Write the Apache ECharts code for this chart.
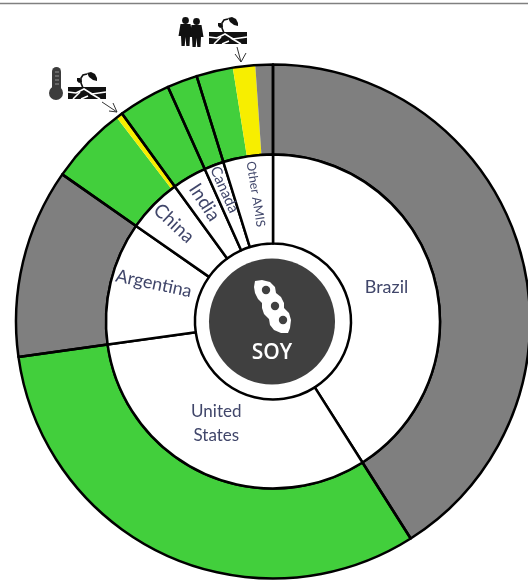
<!DOCTYPE html>
<html>
<head>
<meta charset="utf-8">
<title>Soy</title>
<script src="https://cdn.jsdelivr.net/npm/echarts@6/dist/echarts.min.js"></script>
<style>
  html, body { margin: 0; padding: 0; background: #fff; }
  #chart { width: 528px; height: 581px; }
</style>
</head>
<body>
<div id="chart"></div>
<script>
// countries, clockwise from 12 o'clock (share of the ring, %)
var countries = ['Brazil', 'United\nStates', 'Argentina', 'China', 'India', 'Canada', 'Other AMIS'];
var countryShares = [41, 31.8, 11.9, 5.3, 3.3, 1.9, 4.8];
// outer ring, same order, split by status
var ringShares = [41, 31.8, 11.9, 4.9, 0.4, 3.3, 1.9, 2.3, 1.4, 1.1];
var ringStatus = ['grey', 'green', 'grey', 'green', 'yellow', 'green', 'green', 'green', 'yellow', 'grey'];

var statusColors = { grey: '#7f7f7f', green: '#42cf3c', yellow: '#f7ee00' };
var labelColor = '#40466a';
var labelFont = 'Lato';

// rotate / size / nudge for each country label (nudge runs along the rotated text)
var labelLooks = [
  { rotate: 0, fontSize: 18, offset: [-7, 1] },
  { rotate: 0, fontSize: 17, offset: [-4, -12] },
  { rotate: -12, fontSize: 18, offset: [1, -9] },
  { rotate: -43, fontSize: 19, offset: [-14, -1] },
  { rotate: -57, fontSize: 19, offset: [-12, -1] },
  { rotate: -66, fontSize: 15, offset: [-15, -2] },
  { rotate: -81, fontSize: 12.5, offset: [-3, -2] }
];

var cx = 273, cy = 321.5;

function fillPoly(points, color, z) {
  return { type: 'polygon', z: z || 10, shape: { points: points }, style: { fill: color } };
}
function strokeLine(points, color, width, z) {
  return { type: 'polyline', z: z || 10, shape: { points: points }, style: { fill: null, stroke: color, lineWidth: width } };
}

function sprout(x, y) {
  return {
    type: 'group', x: x, y: y, silent: true,
    children: [
      { type: 'rect', z: 10, shape: { x: 0, y: 0, width: 38, height: 12 }, style: { fill: '#111' } },
      strokeLine([[0, 5], [8, 6], [16, 2], [24, 7], [38, 5]], '#fff', 1.6, 11),
      strokeLine([[5, 12], [12, 5]], '#fff', 1.6, 11),
      strokeLine([[22, 6], [32, 12]], '#fff', 1.6, 11),
      strokeLine([[13, 12], [20, 9]], '#fff', 1.6, 11),
      strokeLine([[15, 1], [13, -4], [13, -9], [15, -12], [19, -13]], '#111', 1.6),
      fillPoly([[19, -14], [23, -15], [27, -13], [29, -9], [29, -6], [25, -7], [21, -10]], '#111'),
      fillPoly([[14, -5], [12, -9], [9, -9], [9, -6], [11, -4]], '#111')
    ]
  };
}

function person(x, y) {
  return {
    type: 'group', x: x, y: y, silent: true,
    children: [
      { type: 'circle', z: 10, shape: { cx: 6.5, cy: 3.5, r: 3.4 }, style: { fill: '#111' } },
      fillPoly([[1.5, 7], [11.5, 7], [13.5, 19], [11, 19], [10.5, 29], [7.3, 29], [6.5, 20], [5.7, 29], [2.5, 29], [2, 19], [-0.5, 19]], '#111')
    ]
  };
}

function arrow(from, to, h1, h2) {
  return {
    type: 'group', silent: true,
    children: [
      strokeLine([from, to], '#333', 1),
      strokeLine([h1, to, h2], '#333', 1)
    ]
  };
}

var chart = echarts.init(document.getElementById('chart'));
chart.setOption({
  backgroundColor: '#fff',
  animation: false,
  series: [
    {
      // outer ring, no lines between the status pieces
      type: 'pie', center: [cx, cy], radius: [167, 257], startAngle: 90,
      silent: true, label: { show: false }, labelLine: { show: false },
      data: ringShares.map(function (v, i) {
        return { value: v, itemStyle: { color: statusColors[ringStatus[i]] } };
      })
    },
    {
      // country lines over the outer ring
      type: 'pie', center: [cx, cy], radius: [167, 257], startAngle: 90,
      silent: true, label: { show: false }, labelLine: { show: false },
      itemStyle: { color: 'transparent', borderColor: '#000', borderWidth: 2.5 },
      data: countryShares
    },
    {
      type: 'pie', center: [cx, cy], radius: [78, 167], startAngle: 90,
      silent: true, labelLine: { show: false }, avoidLabelOverlap: false,
      itemStyle: { color: '#fff', borderColor: '#000', borderWidth: 2.5 },
      labelLayout: { hideOverlap: false },
      data: countries.map(function (name, i) {
        return {
          name: name,
          value: countryShares[i],
          label: {
            show: true, position: 'inside', formatter: '{b}',
            color: labelColor, fontFamily: labelFont,
            rotate: labelLooks[i].rotate,
            fontSize: labelLooks[i].fontSize,
            lineHeight: labelLooks[i].fontSize * 1.4,
            offset: labelLooks[i].offset
          }
        };
      })
    }
  ],
  graphic: [
    { type: 'line', z: 10, silent: true, shape: { x1: 0, y1: 3.5, x2: 528, y2: 3.5 }, style: { stroke: '#808080', lineWidth: 1.5 } },
    { type: 'circle', z: 10, silent: true, shape: { cx: cx - 1, cy: cy, r: 63 }, style: { fill: '#404040' } },
    // soy pod
    {
      type: 'group', silent: true,
      children: [
        fillPoly([[255, 281], [262, 280], [270, 282], [275, 287], [276, 293], [281, 297], [284, 303], [284, 308], [289, 313], [291, 320], [290, 328], [288, 333], [281, 333], [274, 330], [270, 325], [269, 319], [264, 314], [262, 308], [262, 303], [258, 299], [255, 293], [254, 287]], '#fff', 11),
        { type: 'circle', z: 12, shape: { cx: 266, cy: 290, r: 4.2 }, style: { fill: '#404040' } },
        { type: 'circle', z: 12, shape: { cx: 275, cy: 306, r: 4.2 }, style: { fill: '#404040' } },
        { type: 'circle', z: 12, shape: { cx: 283, cy: 320, r: 4.2 }, style: { fill: '#404040' } }
      ]
    },
    {
      type: 'text', z: 11, silent: true, x: 272, y: 353,
      style: { text: 'SOY', fill: '#fff', font: '600 21px "Open Sans"', textAlign: 'center', textVerticalAlign: 'middle' }
    },
    // thermometer + soil
    { type: 'rect', z: 10, silent: true, shape: { x: 52, y: 67, width: 9, height: 26, r: 4.5 }, style: { fill: '#3c3c3c' } },
    { type: 'circle', z: 10, silent: true, shape: { cx: 56, cy: 93, r: 7 }, style: { fill: '#3c3c3c' } },
    { type: 'group', silent: true, children: [
      strokeLine([[55, 72], [59, 72]], '#aaa', 0.8, 11),
      strokeLine([[55, 76], [59, 76]], '#aaa', 0.8, 11),
      strokeLine([[55, 80], [59, 80]], '#aaa', 0.8, 11),
      strokeLine([[55, 84], [59, 84]], '#aaa', 0.8, 11)
    ] },
    sprout(68, 87),
    arrow([102, 102], [117, 112], [109, 111], [113, 103]),
    // farmers + soil
    person(179, 17),
    person(190, 18),
    sprout(209, 32),
    arrow([237, 47], [241, 62], [235, 54], [246, 53])
  ]
});
</script>
</body>
</html>
